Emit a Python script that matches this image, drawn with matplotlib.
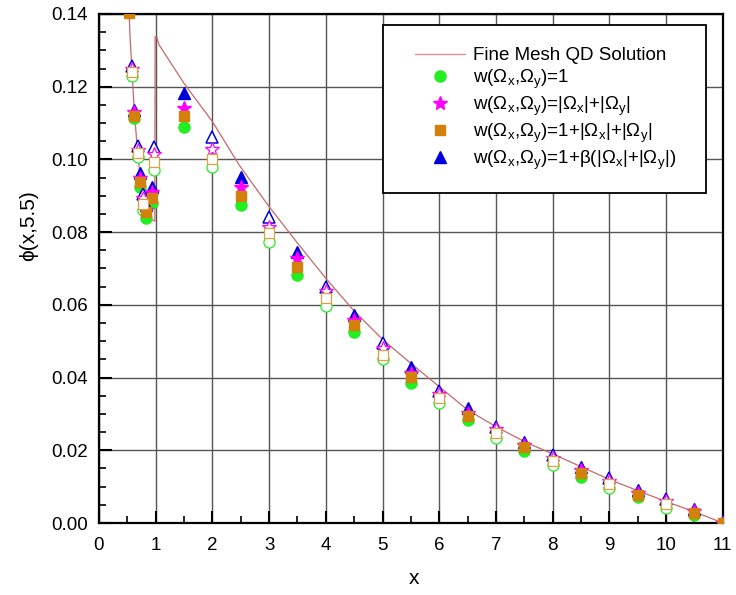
import matplotlib
matplotlib.use("Agg")
import matplotlib.pyplot as plt
from matplotlib.lines import Line2D
from matplotlib.patches import Rectangle
from matplotlib.ticker import MultipleLocator, FormatStrFormatter

plt.rcParams['font.family'] = ['Liberation Sans', 'DejaVu Sans']
plt.rcParams['mathtext.fontset'] = 'custom'
plt.rcParams['mathtext.rm'] = 'Liberation Sans'
plt.rcParams['mathtext.it'] = 'Liberation Sans'

# Fine mesh reference solution
fine_x = [0.52, 0.55, 0.58, 0.62, 0.67, 0.72, 0.77, 0.82, 0.87, 0.93, 0.985, 0.99, 1.02,
          1.06, 1.5, 2.0, 2.47, 3.0, 3.5, 4.0, 4.5, 5.0, 5.5, 6.0, 6.5, 7.0, 7.5, 8.0,
          8.5, 9.0, 9.5, 10.0, 10.5, 11.0]
fine_y = [0.145, 0.133, 0.125, 0.114, 0.104, 0.096, 0.090, 0.0865, 0.0845, 0.0835, 0.083,
          0.1338, 0.1335, 0.1315, 0.1209, 0.1104, 0.0985, 0.0870, 0.0770, 0.0673, 0.0583,
          0.0505, 0.0439, 0.0375, 0.0311, 0.0265, 0.0224, 0.0190, 0.0155, 0.0120, 0.0089,
          0.0059, 0.0031, 0.0]

# Cell-average positions (filled markers)
x_fill = [0.53, 0.62, 0.72, 0.83, 0.93, 1.5, 2.5, 3.5, 4.5, 5.5, 6.5, 7.5, 8.5, 9.5, 10.5, 11.0]
circ_fill = [0.1425, 0.1115, 0.0925, 0.0838, 0.0879, 0.1088, 0.0876, 0.0682, 0.0525, 0.0386,
             0.0283, 0.0198, 0.0127, 0.0071, 0.0022, 0.0]
star_fill = [0.1435, 0.1130, 0.0950, 0.0862, 0.0910, 0.1142, 0.0925, 0.0728, 0.0558, 0.0412,
             0.0303, 0.0215, 0.0145, 0.0083, 0.0032, 0.0]
sq_fill = [0.1402, 0.1120, 0.0939, 0.0856, 0.0893, 0.1119, 0.0899, 0.0705, 0.0545, 0.0402,
           0.0295, 0.0208, 0.0137, 0.0077, 0.0027, 0.0]
tri_fill = [0.1445, 0.1136, 0.0962, 0.0875, 0.0925, 0.1183, 0.0952, 0.0746, 0.0572, 0.0428,
            0.0315, 0.0224, 0.0155, 0.0091, 0.0038, 0.0005]

# Edge positions (hollow markers)
x_edge = [0.58, 0.68, 0.77, 0.97, 2.0, 3.0, 4.0, 5.0, 6.0, 7.0, 8.0, 9.0, 10.0]
circ_edge = [0.1230, 0.1007, 0.0860, 0.0971, 0.0980, 0.0774, 0.0597, 0.0450, 0.0329, 0.0235,
             0.0160, 0.0095, 0.0040]
star_edge = [0.1250, 0.1025, 0.0893, 0.1015, 0.1030, 0.0815, 0.0638, 0.0480, 0.0355, 0.0258,
             0.0180, 0.0115, 0.0060]
sq_edge = [0.1241, 0.1018, 0.0878, 0.0994, 0.1000, 0.0797, 0.0618, 0.0462, 0.0343, 0.0247,
           0.0171, 0.0106, 0.0052]
tri_edge = [0.1257, 0.1037, 0.0905, 0.1035, 0.1063, 0.0842, 0.0650, 0.0495, 0.0364, 0.0265,
            0.0187, 0.0123, 0.0065]

labels = ["Fine Mesh QD Solution",
          r"w($\Omega_{\mathrm{x}}$,$\Omega_{\mathrm{y}}$)=1",
          r"w($\Omega_{\mathrm{x}}$,$\Omega_{\mathrm{y}}$)=|$\Omega_{\mathrm{x}}$|+|$\Omega_{\mathrm{y}}$|",
          r"w($\Omega_{\mathrm{x}}$,$\Omega_{\mathrm{y}}$)=1+|$\Omega_{\mathrm{x}}$|+|$\Omega_{\mathrm{y}}$|",
          r"w($\Omega_{\mathrm{x}}$,$\Omega_{\mathrm{y}}$)=1+$\beta$(|$\Omega_{\mathrm{x}}$|+|$\Omega_{\mathrm{y}}$|)"]

green = '#22ee22'
magenta = '#ff00ff'
orange = '#d4800c'
blue = '#0000dd'
linec = '#c86868'

fig = plt.figure(figsize=(7.36, 5.95), dpi=100)
ax = fig.add_axes([0.1345, 0.121, 0.8475, 0.8555])

ax.plot(fine_x, fine_y, color=linec, lw=0.9, zorder=2)

ms_c, ms_s, ms_sq, ms_t = 8, 10, 6.8, 9
# filled
ax.plot(x_fill, circ_fill, 'o', color=green, ms=ms_c, mec=green, zorder=3)
ax.plot(x_fill, tri_fill, '^', color=blue, ms=ms_t, mec=blue, zorder=4)
ax.plot(x_fill, star_fill, '*', color=magenta, ms=ms_s, mec=magenta, zorder=5)
ax.plot(x_fill, sq_fill, 's', color=orange, ms=ms_sq, mec=orange, zorder=6)
# hollow
ax.plot(x_edge, circ_edge, 'o', mfc='white', mec=green, mew=0.9, ms=ms_c, zorder=3)
ax.plot(x_edge, tri_edge, '^', mfc='white', mec=blue, mew=1.1, ms=ms_t, zorder=4)
ax.plot(x_edge, star_edge, '*', mfc='white', mec=magenta, mew=0.9, ms=ms_s, zorder=5)
ax.plot(x_edge, sq_edge, 's', mfc='white', mec='#e0a040', mew=0.9, ms=ms_sq, zorder=6)

ax.set_xlim(0, 11)
ax.set_ylim(0, 0.14)
ax.xaxis.set_major_locator(MultipleLocator(1))
ax.xaxis.set_minor_locator(MultipleLocator(0.5))
ax.yaxis.set_major_locator(MultipleLocator(0.02))
ax.yaxis.set_minor_locator(MultipleLocator(0.005))
ax.yaxis.set_major_formatter(FormatStrFormatter('%.2f'))
ax.tick_params(which='major', direction='in', length=9, width=1.5, labelsize=13.5,
               top=False, right=False)
ax.tick_params(axis='x', which='major', pad=10)
ax.tick_params(axis='y', which='major', pad=8)
ax.tick_params(which='minor', direction='in', length=5, width=1.2, top=False, right=False)
ax.grid(True, which='major', color='#555555', lw=1.0, zorder=0)
ax.set_axisbelow(True)
for s in ax.spines.values():
    s.set_linewidth(1.6)

ax.set_xlabel('x', fontsize=15)
ax.xaxis.set_label_coords(0.505, -0.09)
ax.set_ylabel('\u03d5(x,5.5)', fontsize=15)
ax.yaxis.set_label_coords(-0.097, 0.585)

# legend frame drawn separately for exact padding
W, H = 624.0, 509.0
x0, y0 = (383 - 99) / W, (523 - 193) / H
x1, y1 = (706 - 99) / W, (523 - 25) / H
ax.add_patch(Rectangle((x0, y0), x1 - x0, y1 - y0, transform=ax.transAxes,
                       facecolor='white', edgecolor='black', lw=1.3, zorder=9))

handles = [Line2D([], [], color='#e0909a', lw=1.0),
           Line2D([], [], ls='', marker='o', color=green, ms=ms_c),
           Line2D([], [], ls='', marker='*', color=magenta, ms=ms_s),
           Line2D([], [], ls='', marker='s', color=orange, ms=ms_sq),
           Line2D([], [], ls='', marker='^', color=blue, ms=ms_t)]
leg = ax.legend(handles, labels, loc='upper left',
                bbox_to_anchor=((415 - 99) / W, (523 - 47) / H),
                fontsize=13.5, frameon=False, handlelength=2.7, handletextpad=0.4,
                borderpad=0, labelspacing=0.2, borderaxespad=0)
leg.set_zorder(10)

fig.savefig('out.png', dpi=100)
